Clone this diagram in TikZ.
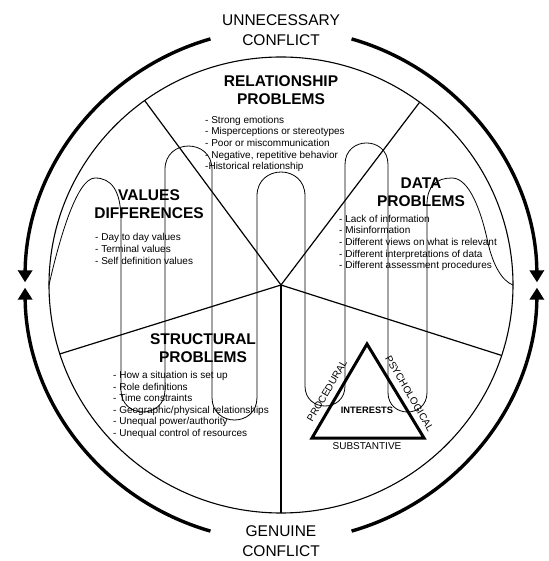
\documentclass[tikz,border=0pt]{standalone}
\usepackage{fontspec}
\setmainfont{Liberation Sans}
\usetikzlibrary{arrows.meta}

\begin{document}
\begin{tikzpicture}[x=1pt,y=1pt,
  title/.style={font=\fontsize{15.5}{18.5}\selectfont\bfseries, align=center, inner sep=0pt},
  caption/.style={font=\fontsize{15.5}{19.5}\selectfont, align=center, inner sep=0pt},
  items/.style={font=\fontsize{10}{11.6}\selectfont, align=left, anchor=west, inner sep=0pt},
  side/.style={font=\fontsize{10}{12}\selectfont, inner sep=0pt},
  bigarc/.style={line width=3.4pt, -{Triangle[width=14pt,length=12pt]}},
  spoke/.style={line width=1.2pt},
  loopline/.style={line width=0.8pt},
  tri/.style={line width=3pt, line join=miter}]
  \useasboundingbox (-281,-276) rectangle (267,285);
  \coordinate (hub) at (0,0);

  % outer arrows
  \draw[bigarc] (106:256) arc[start angle=106, end angle=179.4, radius=256];
  \draw[bigarc] (254:256) arc[start angle=254, end angle=180.6, radius=256];
  \draw[bigarc] (74:256) arc[start angle=74, end angle=0.6, radius=256];
  \draw[bigarc] (286:256) arc[start angle=286, end angle=359.4, radius=256];
  \node[caption] (unnec) at (0,255) {UNNECESSARY\\CONFLICT};
  \node[caption] (genuine) at (0,-256) {GENUINE\\CONFLICT};

  % wheel
  \draw[line width=1.1pt] (hub) circle[x radius=232, y radius=228];
  \foreach \a/\n in {126/sa, 53.3/sb, 197.6/sc, 270/sd, 342/se}
    \coordinate (\n) at ({232*cos(\a)},{228*sin(\a)});
  \foreach \n in {sa, sb, sc, sd, se}
    \draw[spoke] (hub) -- (\n);

  % the winding line
  \coordinate (wstart) at (-232,0);
  \coordinate (wend) at (232,0);
  \draw[loopline] (wstart)
    .. controls (-223,40) and (-205,107) .. (-186,107)
    .. controls (-170,107) and (-160,95) .. (-160,65)
    -- (-160,-105)
    .. controls (-160,-134.3) and (-116,-134.3) .. (-116,-105)
    -- (-116,115.5)
    .. controls (-116,146.8) and (-69,146.8) .. (-69,115.5)
    -- (-69,-112.5)
    .. controls (-69,-142.5) and (-24,-142.5) .. (-24,-112.5)
    -- (-24,89)
    .. controls (-24,121) and (24,121) .. (24,89)
    -- (24,-101)
    .. controls (24,-127.7) and (64,-127.7) .. (64,-101)
    -- (64,120.5)
    .. controls (64,149.2) and (107,149.2) .. (107,120.5)
    -- (107,-107.5)
    .. controls (107,-133.5) and (146,-133.5) .. (146,-107.5)
    -- (146,80)
    .. controls (146,100) and (156,107) .. (171,107)
    .. controls (188,107) and (200,75) .. (207,42)
    .. controls (212,20) and (221,4) .. (wend);

  % sectors
  \node[title] (reltitle) at (0,195) {RELATIONSHIP\\PROBLEMS};
  \node[items] (relitems) at (-76,141) {- Strong emotions\\- Misperceptions or stereotypes\\- Poor or miscommunication\\- Negative, repetitive behavior\\-Historical relationship};

  \node[title] (valtitle) at (-132,81) {VALUES\\DIFFERENCES};
  \node[items] (valitems) at (-186,36) {- Day to day values\\- Terminal values\\- Self definition values};

  \node[title] (datatitle) at (140,93) {DATA\\PROBLEMS};
  \node[items] (dataitems) at (58,42) {- Lack of information\\- Misinformation\\- Different views on what is relevant\\- Different interpretations of data\\- Different assessment procedures};

  \node[title] (structitle) at (-78,-63) {STRUCTURAL\\PROBLEMS};
  \node[items] (structitems) at (-168,-120) {- How a situation is set up\\- Role definitions\\- Time constraints\\- Geographic/physical relationships\\- Unequal power/authority\\- Unequal control of resources};

  % interests triangle
  \coordinate (apex) at (86,-59);
  \coordinate (tleft) at (31,-153);
  \coordinate (tright) at (143,-153);
  \draw[tri] (apex) -- (tleft) -- (tright) -- cycle;
  \node[font=\fontsize{9.3}{11}\selectfont\bfseries, inner sep=0pt] (interests) at (86,-125) {INTERESTS};
  \node[side] (subst) at (86,-161) {SUBSTANTIVE};
  \node[side, rotate=59.7] (proc) at (46,-106) {PROCEDURAL};
  \node[side, rotate=-59.7] (psych) at (128.5,-108.5) {PSYCHOLOGICAL};
\end{tikzpicture}
\end{document}
